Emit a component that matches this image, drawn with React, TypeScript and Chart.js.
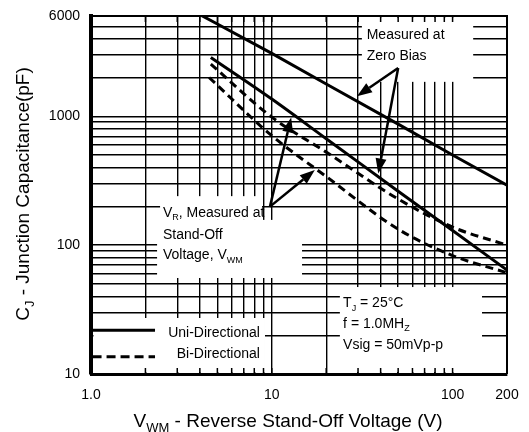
import React, { useEffect, useRef } from "react";
import { Chart, registerables } from "chart.js";

Chart.register(...registerables);

const FONT = '"Liberation Sans", Arial, Helvetica, sans-serif';

// ---- axis grid values and labels ----
const xGridValues = [1, 2, 3, 4, 5, 6, 7, 8, 9, 10, 20, 30, 40, 50, 60, 70, 80, 90, 100, 200];
const xTickLabels: Record<number, string> = { 1: "1.0", 10: "10", 100: "100", 200: "200" };
const yGridValues = [
  10, 20, 30, 40, 50, 60, 70, 80, 90, 100, 200, 300, 400, 500, 600, 700, 800, 900, 1000, 2000, 3000,
  4000, 5000, 6000,
];
const yTickLabels: Record<number, string> = { 10: "10", 100: "100", 1000: "1000", 6000: "6000" };

// ---- series (V, pF) ----
const zeroBiasUniV = [4, 5, 10, 20, 50, 100, 200];
const zeroBiasUniC = [6150, 5200, 3080, 1780, 870, 500, 292];

const standOffUniV = [4.6, 10, 20, 50, 100, 200];
const standOffUniC = [2860, 1360, 670, 262, 130, 64];

const biUpperV = [4.6, 10, 20, 50, 100, 200];
const biUpperC = [2540, 985, 527, 228, 138, 100];

const biLowerV = [4.5, 10, 20, 50, 100, 200];
const biLowerC = [2000, 707, 341, 133, 83, 61];

// ---- annotation layout (in data units) ----
type Part = [string, boolean?];
const whiteBoxes = [
  { x0: 31.5, x1: 130, y0: 1850, y1: 6000 },
  { x0: 2.41, x1: 8.83, y0: 157, y1: 240 },
  { x0: 2.32, x1: 14.7, y0: 55.6, y1: 157 },
  { x0: 1, x1: 9.17, y0: 10, y1: 27.2 },
  { x0: 23.8, x1: 145.5, y0: 10, y1: 47.3 },
];
const noteTexts: { x: number; y: number; parts: Part[] }[] = [
  { x: 33.5, y: 4350, parts: [["Measured at"]] },
  { x: 33.5, y: 2990, parts: [["Zero Bias"]] },
  { x: 2.5, y: 181, parts: [["V"], ["R", true], [", Measured at"]] },
  { x: 2.5, y: 122, parts: [["Stand-Off"]] },
  { x: 2.5, y: 85, parts: [["Voltage, V"], ["WM", true]] },
  { x: 24.8, y: 36.2, parts: [["T"], ["J", true], [" = 25°C"]] },
  { x: 24.8, y: 24.9, parts: [["f = 1.0MH"], ["Z", true]] },
  { x: 24.8, y: 17.1, parts: [["Vsig = 50mVp-p"]] },
];
const arrows = [
  { from: [50, 2370], to: [29.6, 1430] },
  { from: [50, 2370], to: [38.8, 360] },
  { from: [9.77, 199], to: [12.8, 980] },
  { from: [9.77, 199], to: [17.3, 383] },
];
const legendItems = [
  { label: "Uni-Directional", dash: [] as number[], lineY: 21.9, textY: 21.3 },
  { label: "Bi-Directional", dash: [9, 5], lineY: 13.6, textY: 14.6 },
];
const legendLineX = [1.02, 2.26];
const legendTextRightX = 8.6;

function drawRich(
  ctx: CanvasRenderingContext2D,
  parts: Part[],
  x: number,
  yMid: number,
  size: number,
  align: "left" | "center" | "right"
) {
  const sub = Math.round(size * 0.66);
  let w = 0;
  for (const [t, s] of parts) {
    ctx.font = `${s ? sub : size}px ${FONT}`;
    w += ctx.measureText(t).width;
  }
  let cx = align === "left" ? x : align === "center" ? x - w / 2 : x - w;
  const base = yMid + size * 0.36;
  ctx.textAlign = "left";
  ctx.textBaseline = "alphabetic";
  for (const [t, s] of parts) {
    ctx.font = `${s ? sub : size}px ${FONT}`;
    ctx.fillText(t, cx, base + (s ? size * 0.25 : 0));
    cx += ctx.measureText(t).width;
  }
}

function drawArrow(ctx: CanvasRenderingContext2D, x0: number, y0: number, x1: number, y1: number) {
  const ang = Math.atan2(y1 - y0, x1 - x0);
  const len = 15;
  const hw = 5.5;
  const bx = x1 - Math.cos(ang) * len;
  const by = y1 - Math.sin(ang) * len;
  ctx.beginPath();
  ctx.moveTo(x0, y0);
  ctx.lineTo(bx, by);
  ctx.stroke();
  ctx.beginPath();
  ctx.moveTo(x1, y1);
  ctx.lineTo(bx + Math.sin(ang) * hw, by - Math.cos(ang) * hw);
  ctx.lineTo(bx - Math.sin(ang) * hw, by + Math.cos(ang) * hw);
  ctx.closePath();
  ctx.fill();
}

const overlayPlugin = {
  id: "overlay",
  beforeDatasetsDraw(chart: any) {
    const { ctx, chartArea: a, scales } = chart;
    const xs = scales.x;
    const ys = scales.y;
    ctx.save();
    ctx.fillStyle = "#fff";
    for (const b of whiteBoxes) {
      const l = Math.max(xs.getPixelForValue(b.x0), a.left + 2.5);
      const r = Math.min(xs.getPixelForValue(b.x1), a.right - 1.5);
      const t = Math.max(ys.getPixelForValue(b.y1), a.top + 1.5);
      const bt = Math.min(ys.getPixelForValue(b.y0), a.bottom - 2);
      ctx.fillRect(l, t, r - l, bt - t);
    }
    ctx.strokeStyle = "#000";
    ctx.lineWidth = 1.5;
    for (const v of xGridValues) {
      const px = xs.getPixelForValue(v);
      ctx.beginPath();
      ctx.moveTo(px, a.bottom);
      ctx.lineTo(px, a.bottom - 6);
      ctx.moveTo(px, a.top);
      ctx.lineTo(px, a.top + 6);
      ctx.stroke();
    }
    ctx.restore();
  },
  afterDraw(chart: any) {
    const { ctx, chartArea: a, scales } = chart;
    const xs = scales.x;
    const ys = scales.y;
    ctx.save();
    ctx.strokeStyle = "#000";
    ctx.fillStyle = "#000";
    ctx.lineWidth = 2;
    ctx.beginPath();
    ctx.moveTo(a.left, a.top);
    ctx.lineTo(a.right, a.top);
    ctx.lineTo(a.right, a.bottom);
    ctx.stroke();

    ctx.lineWidth = 2.5;
    for (const ar of arrows) {
      drawArrow(
        ctx,
        xs.getPixelForValue(ar.from[0]),
        ys.getPixelForValue(ar.from[1]),
        xs.getPixelForValue(ar.to[0]),
        ys.getPixelForValue(ar.to[1])
      );
    }

    for (const n of noteTexts) {
      drawRich(ctx, n.parts, xs.getPixelForValue(n.x), ys.getPixelForValue(n.y), 14, "left");
    }

    ctx.lineWidth = 3;
    for (const it of legendItems) {
      const ly = ys.getPixelForValue(it.lineY);
      ctx.setLineDash(it.dash);
      ctx.beginPath();
      ctx.moveTo(xs.getPixelForValue(legendLineX[0]), ly);
      ctx.lineTo(xs.getPixelForValue(legendLineX[1]), ly);
      ctx.stroke();
      ctx.setLineDash([]);
      drawRich(
        ctx,
        [[it.label]],
        xs.getPixelForValue(legendTextRightX),
        ys.getPixelForValue(it.textY),
        14,
        "right"
      );
    }

    drawRich(ctx, [["V"], ["WM", true], [" - Reverse Stand-Off Voltage (V)"]], 288, 420, 19, "center");
    ctx.save();
    ctx.translate(22, 194);
    ctx.rotate(-Math.PI / 2);
    drawRich(ctx, [["C"], ["J", true], [" - Junction Capacitance(pF)"]], 0, 0, 19, "center");
    ctx.restore();
    ctx.restore();
  },
};

export default function App() {
  const canvasRef = useRef<HTMLCanvasElement | null>(null);

  useEffect(() => {
    if (!canvasRef.current) return;
    const toPts = (xv: number[], yv: number[]) => xv.map((x, i) => ({ x, y: yv[i] }));
    const base = {
      borderColor: "#000",
      backgroundColor: "#000",
      borderWidth: 3,
      pointRadius: 0,
      fill: false,
    };
    const chart = new Chart(canvasRef.current, {
      type: "line",
      data: {
        datasets: [
          { ...base, label: "Uni-Directional, Zero Bias", data: toPts(zeroBiasUniV, zeroBiasUniC), tension: 0 },
          {
            ...base,
            label: "Uni-Directional, V_WM",
            data: toPts(standOffUniV, standOffUniC),
            cubicInterpolationMode: "monotone",
          },
          {
            ...base,
            label: "Bi-Directional (upper)",
            data: toPts(biUpperV, biUpperC),
            borderDash: [8, 5],
            cubicInterpolationMode: "monotone",
          },
          {
            ...base,
            label: "Bi-Directional (lower)",
            data: toPts(biLowerV, biLowerC),
            borderDash: [8, 5],
            cubicInterpolationMode: "monotone",
          },
        ],
      },
      options: {
        animation: false,
        responsive: false,
        devicePixelRatio: 1,
        parsing: false as any,
        layout: { padding: { left: 0, top: 16, right: 22, bottom: 0 } },
        plugins: { legend: { display: false }, tooltip: { enabled: false } },
        scales: {
          x: {
            type: "logarithmic",
            min: 1,
            max: 200,
            afterBuildTicks: (s: any) => {
              s.ticks = xGridValues.map((v) => ({ value: v }));
            },
            afterFit: (s: any) => {
              s.height = 58;
            },
            ticks: {
              autoSkip: false,
              maxRotation: 0,
              padding: 3,
              color: "#000",
              font: { family: FONT, size: 14 },
              callback: (v: any) => xTickLabels[Number(v)] ?? "",
            },
            grid: {
              color: "#000",
              lineWidth: 1.4,
              drawTicks: true,
              tickLength: 10,
              tickColor: "rgba(0,0,0,0)",
            },
            border: { color: "#000", width: 3 },
          },
          y: {
            type: "logarithmic",
            min: 10,
            max: 6000,
            afterBuildTicks: (s: any) => {
              s.ticks = yGridValues.map((v) => ({ value: v }));
            },
            afterFit: (s: any) => {
              s.width = 91;
            },
            ticks: {
              autoSkip: false,
              padding: 3,
              color: "#000",
              font: { family: FONT, size: 14 },
              callback: (v: any) => yTickLabels[Number(v)] ?? "",
            },
            grid: {
              color: "#000",
              lineWidth: 1.4,
              drawTicks: true,
              tickLength: 8,
              tickColor: "rgba(0,0,0,0)",
            },
            border: { color: "#000", width: 4 },
          },
        },
      } as any,
      plugins: [overlayPlugin],
    });
    return () => chart.destroy();
  }, []);

  return (
    <div style={{ position: "fixed", left: 0, top: 0, width: 529, height: 432, background: "#fff" }}>
      <canvas ref={canvasRef} width={529} height={432} style={{ width: 529, height: 432 }} />
    </div>
  );
}
